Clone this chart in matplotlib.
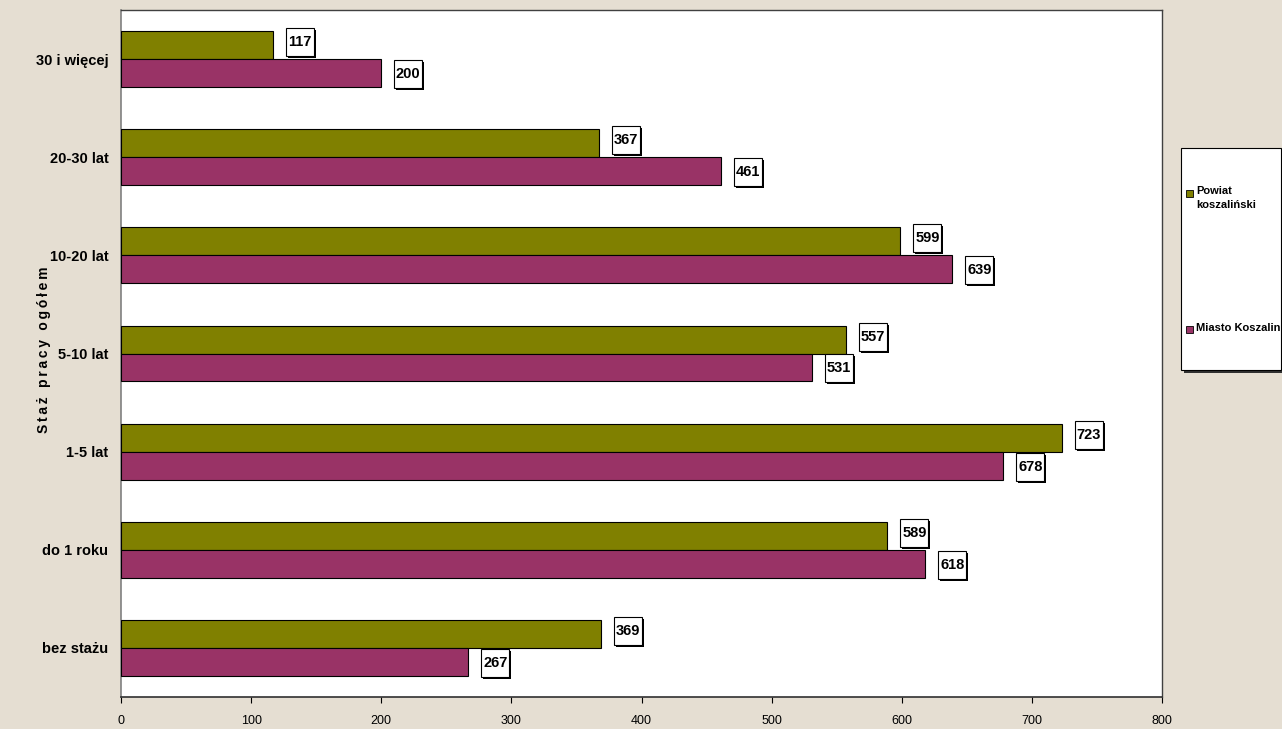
import numpy as np
import matplotlib
matplotlib.use("Agg")
import matplotlib.pyplot as plt
import matplotlib.patches as mpatches
from matplotlib.transforms import IdentityTransform

# ── Data ─────────────────────────────────────────────────────────────────────
categories = ["bez stażu", "do 1 roku", "1-5 lat", "5-10 lat", "10-20 lat", "20-30 lat", "30 i więcej"]
powiat = [369, 589, 723, 557, 599, 367, 117]
miasto = [267, 618, 678, 531, 639, 461, 200]
series_names = ["Powiat\nkoszaliński", "Miasto Koszalin"]
axis_title = "Staż pracy ogółem"

C_BG = "#e5ded2"
C_GREEN = "#808000"
C_PURPLE = "#993366"

plt.rcParams["font.family"] = ["Liberation Sans", "DejaVu Sans"]

W, H = 1282, 729
fig = plt.figure(figsize=(W / 100, H / 100), dpi=100, facecolor=C_BG)
ax = fig.add_axes([121 / W, 1 - 697 / H, (1162 - 121) / W, (697 - 10) / H])
ax.set_facecolor("white")

y = np.arange(len(categories))
h = 0.285
bars_g = ax.barh(y + h / 2, powiat, h, color=C_GREEN, edgecolor="black", linewidth=0.8, zorder=3)
bars_p = ax.barh(y - h / 2, miasto, h, color=C_PURPLE, edgecolor="black", linewidth=0.8, zorder=3)

ax.set_xlim(0, 800)
ax.set_ylim(-0.5, len(categories) - 0.5)
ax.set_xticks(range(0, 801, 100))
ax.tick_params(axis="x", direction="out", length=4, labelsize=9, pad=9)
ax.set_yticks(y)
ax.set_yticklabels(categories, fontsize=10.5, fontweight="bold")
ax.tick_params(axis="y", length=0, pad=9)
for s in ("top", "right"):
    ax.spines[s].set_color("#404040")
    ax.spines[s].set_linewidth(1.0)
ax.spines["left"].set_color("#808080")
ax.spines["left"].set_linewidth(1.2)
ax.spines["bottom"].set_color("#303030")
ax.spines["bottom"].set_linewidth(1.2)

# axis title with letter spacing
spaced = "\u2009".join(axis_title).replace("\u2009 \u2009", "\u2009\u2009 ")
fig.text(44 / W, 1 - 350 / H, spaced, rotation=90, ha="center", va="center",
         fontsize=10, fontweight="bold")

# ── Value labels in boxes with shadow (pixel-sized boxes) ────────────────────
idt = IdentityTransform()
bw, bh = 28, 28
for bars, dy in ((bars_g, -3), (bars_p, 1)):
    for b in bars:
        px, py = ax.transData.transform((b.get_width(), b.get_y() + b.get_height() / 2))
        x0 = px + 13
        yc = py - dy
        fig.patches.append(mpatches.Rectangle((x0 + 2, yc - bh / 2 - 2), bw, bh, fc="black",
                                              ec="none", transform=idt, figure=fig, zorder=5))
        fig.patches.append(mpatches.Rectangle((x0, yc - bh / 2), bw, bh, fc="white", ec="black",
                                              lw=0.8, transform=idt, figure=fig, zorder=6))
        fig.text((x0 + bw / 2) / W, yc / H, f"{int(b.get_width())}", ha="center", va="center",
                 fontsize=10.5, fontweight="bold", zorder=7)

# ── Legend (manual box) ──────────────────────────────────────────────────────
lx0, lx1, ly0, ly1 = 1181, 1281, 148, 370
fig.patches.append(mpatches.Rectangle((lx0 + 3, H - ly1 - 3), lx1 - lx0, ly1 - ly0, fc="#303030",
                                      ec="none", transform=idt, figure=fig, zorder=5))
fig.patches.append(mpatches.Rectangle((lx0, H - ly1), lx1 - lx0, ly1 - ly0, fc="white", ec="black",
                                      lw=0.8, transform=idt, figure=fig, zorder=6))
for name, col, yy in ((series_names[0], C_GREEN, 193), (series_names[1], C_PURPLE, 329)):
    fig.patches.append(mpatches.Rectangle((1186, H - yy - 3.5), 7, 7, fc=col, ec="black", lw=0.6,
                                          transform=idt, figure=fig, zorder=7))
    fig.text(1196 / W, 1 - (yy - 6.5) / H, name, ha="left", va="top", fontsize=8,
             fontweight="bold", linespacing=1.45, zorder=8)

fig.savefig("out.png", dpi=100, facecolor=fig.get_facecolor())
